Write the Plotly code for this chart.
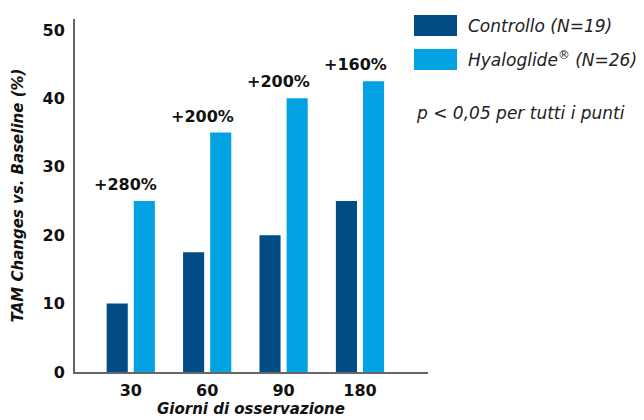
import plotly.graph_objects as go

# Observation days and TAM change vs baseline (%)
giorni = ["30", "60", "90", "180"]
controllo = [10, 17.5, 20, 25]
hyaloglide = [25, 35, 40, 42.5]
incrementi = ["+280%", "+200%", "+200%", "+160%"]

nome_controllo = "Controllo (N=19)"
nome_hyaloglide = "Hyaloglide<sup>®</sup> (N=26)"
nota_p = "p < 0,05 per tutti i punti"
titolo_x = "Giorni di osservazione"
titolo_y = "TAM Changes vs. Baseline (%)"

BLU_SCURO = "#024C86"
BLU_CHIARO = "#03A2E2"
FONT = "DejaVu Sans"

# plot area in pixels (used to convert to paper coordinates)
L, T, W, H = 75, 19, 353, 353


def px_x(x):
    return (x - L) / W


def px_y(y):
    return 1 - (y - T) / H


fig = go.Figure()
fig.add_trace(go.Bar(x=giorni, y=controllo, name=nome_controllo,
                     marker=dict(color=BLU_SCURO, line=dict(width=0))))
fig.add_trace(go.Bar(x=giorni, y=hyaloglide, name=nome_hyaloglide,
                     marker=dict(color=BLU_CHIARO, line=dict(width=0))))

# percentage increase above each Hyaloglide bar (category index positions)
for i, (v, t) in enumerate(zip(hyaloglide, incrementi)):
    fig.add_annotation(x=i, y=v, text=f"<b>{t}</b>", showarrow=False,
                       xanchor="center", yanchor="bottom", xshift=-5, yshift=5,
                       font=dict(family=FONT, size=16, color="#111111"))

# legend drawn as swatches + labels on the right
voci = [(nome_controllo, BLU_SCURO), (nome_hyaloglide, BLU_CHIARO)]
for i, (testo, colore) in enumerate(voci):
    top = 15 + 34 * i
    fig.add_shape(type="rect", xref="paper", yref="paper",
                  x0=px_x(414), x1=px_x(457),
                  y0=px_y(top + 21), y1=px_y(top),
                  fillcolor=colore, line=dict(width=0))
    fig.add_annotation(xref="paper", yref="paper",
                       x=px_x(466), y=px_y(top + 10.5),
                       text=f"<i>{testo}</i>", showarrow=False,
                       xanchor="left", yanchor="middle",
                       font=dict(family=FONT, size=17, color="#222222"))

fig.add_annotation(xref="paper", yref="paper",
                   x=px_x(414), y=px_y(113),
                   text=f"<i>{nota_p}</i>", showarrow=False,
                   xanchor="left", yanchor="middle",
                   font=dict(family=FONT, size=17, color="#222222"))

# x-axis title below the tick labels
fig.add_annotation(xref="paper", yref="paper",
                   x=px_x(251), y=px_y(420),
                   text=f"<b><i>{titolo_x}</i></b>", showarrow=False,
                   xanchor="center", yanchor="bottom",
                   font=dict(family=FONT, size=15, color="#111111"))

fig.update_layout(
    width=644, height=420,
    margin=dict(l=L, r=644 - L - W, t=T, b=420 - T - H),
    paper_bgcolor="white", plot_bgcolor="white",
    barmode="group", bargap=0.29, bargroupgap=0.222,
    showlegend=False,
    font=dict(family=FONT, color="#111111"),
    xaxis=dict(
        type="category", range=[-0.73, 3.89], automargin=False,
        showline=True, linecolor="#666666", linewidth=2,
        showgrid=False, ticks="", zeroline=False,
        tickfont=dict(family=FONT, size=16, color="#111111", weight="bold"),
        ticklabelstandoff=3,
    ),
    yaxis=dict(
        range=[0, 51.6], automargin=False,
        tickvals=[0, 10, 20, 30, 40, 50],
        showline=True, linecolor="#666666", linewidth=2,
        showgrid=False, ticks="", zeroline=False,
        tickfont=dict(family=FONT, size=16, color="#111111", weight="bold"),
        ticklabelstandoff=5,
        title=dict(text=f"<b><i>{titolo_y}</i></b>",
                   font=dict(family=FONT, size=15, color="#111111"), standoff=15),
    ),
)

fig.write_html("out.html")
